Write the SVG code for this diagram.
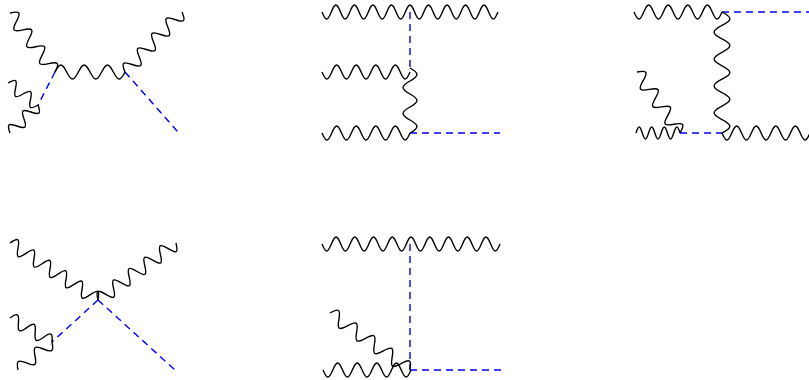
<svg xmlns="http://www.w3.org/2000/svg" xmlns:xlink="http://www.w3.org/1999/xlink" width="809" height="380" viewBox="0 0 809 380">
<style>
.ph{fill:none;stroke:#000;stroke-width:1.4;stroke-linejoin:round}
.sc{fill:none;stroke:#0000ff;stroke-width:1.4;stroke-dasharray:7,5}
</style>
<defs>
<path id="w9" class="ph" d="M0,0c3.91,9.3 5.87,9.3 9.78,0s5.87,-9.3 9.78,0s5.87,9.3 9.78,0s5.87,-9.3 9.78,0s5.87,9.3 9.78,0s5.87,-9.3 9.78,0s5.87,9.3 9.78,0s5.87,-9.3 9.78,0s5.87,9.3 9.78,0"/>
</defs>
<rect width="809" height="380" fill="#fff"/>

<g id="diagram1">
<g id="d1-connectors">
<path class="sc" d="M55,72L38,105M125,72L178,132"/>
<path class="ph" transform="translate(10,13) rotate(52.67)" d="M0,0c4.24,-9.3 6.36,-9.3 10.6,0s6.36,9.3 10.6,0s6.36,-9.3 10.6,0s6.36,9.3 10.6,0s6.36,-9.3 10.6,0s6.36,9.3 10.6,0s6.36,-9.3 10.6,0"/>
<path class="ph" transform="translate(55,72)" d="M0,0c4.67,-9.3 7,-9.3 11.67,0s7,9.3 11.67,0s7,-9.3 11.67,0s7,9.3 11.67,0s7,-9.3 11.67,0s7,9.3 11.67,0"/>
<path class="ph" transform="translate(125,72) rotate(-46.47)" d="M0,0c4.14,-9.3 6.21,-9.3 10.35,0s6.21,9.3 10.35,0s6.21,-9.3 10.35,0s6.21,9.3 10.35,0s6.21,-9.3 10.35,0s6.21,9.3 10.35,0s6.21,-9.3 10.35,0s6.21,9.3 10.35,0"/>
<path class="ph" transform="translate(8,83) rotate(36.25)" d="M0,0c3.72,-8.5 5.58,-8.5 9.3,0s5.58,8.5 9.3,0s5.58,-8.5 9.3,0s5.58,8.5 9.3,0"/>
<path class="ph" transform="translate(38,105) rotate(135)" d="M0,0c3.96,-8.5 5.94,-8.5 9.9,0s5.94,8.5 9.9,0s5.94,-8.5 9.9,0s5.94,8.5 9.9,0"/>
</g>
</g>

<g id="diagram2">
<g id="d2-connectors">
<path class="sc" d="M410,12V70M410,133H500"/>
<path class="ph" transform="translate(322,12)" d="M0,0c3.7,9.3 5.56,9.3 9.26,0s5.56,-9.3 9.26,0s5.56,9.3 9.26,0s5.56,-9.3 9.26,0s5.56,9.3 9.26,0s5.56,-9.3 9.26,0s5.56,9.3 9.26,0s5.56,-9.3 9.26,0s5.56,9.3 9.26,0s5.56,-9.3 9.26,0s5.56,9.3 9.26,0s5.56,-9.3 9.26,0s5.56,9.3 9.26,0s5.56,-9.3 9.26,0s5.56,9.3 9.26,0s5.56,-9.3 9.26,0s5.56,9.3 9.26,0s5.56,-9.3 9.26,0s5.56,9.3 9.26,0"/>
<use href="#w9" xlink:href="#w9" transform="translate(322,72)"/>
<use href="#w9" xlink:href="#w9" transform="translate(322,133)"/>
<path class="ph" transform="translate(410,68) rotate(90)" d="M0,0c5.2,-9.3 7.8,-9.3 13,0s7.8,9.3 13,0s7.8,-9.3 13,0s7.8,9.3 13,0s7.8,-9.3 13,0"/>
</g>
</g>

<g id="diagram3">
<g id="d3-connectors">
<path class="sc" d="M722,12H809M680,133H722"/>
<use href="#w9" xlink:href="#w9" transform="translate(634,12)"/>
<use href="#w9" xlink:href="#w9" transform="translate(722,133)"/>
<path class="ph" transform="translate(722,12) rotate(90)" d="M0,0c5.38,-10.5 8.06,-10.5 13.44,0s8.06,10.5 13.44,0s8.06,-10.5 13.44,0s8.06,10.5 13.44,0s8.06,-10.5 13.44,0s8.06,10.5 13.44,0s8.06,-10.5 13.44,0s8.06,10.5 13.44,0s8.06,-10.5 13.44,0"/>
<path class="ph" transform="translate(637,72) rotate(54.82)" d="M0,0c4.26,-9.3 6.4,-9.3 10.66,0s6.4,9.3 10.66,0s6.4,-9.3 10.66,0s6.4,9.3 10.66,0s6.4,-9.3 10.66,0s6.4,9.3 10.66,0s6.4,-9.3 10.66,0"/>
<path class="ph" transform="translate(636,133)" d="M0,0c2.52,-8 3.77,-8 6.29,0s3.77,8 6.29,0s3.77,-8 6.29,0s3.77,8 6.29,0s3.77,-8 6.29,0s3.77,8 6.29,0s3.77,-8 6.29,0"/>
</g>
</g>

<g id="diagram4">
<g id="d4-connectors">
<path class="sc" d="M98,300L52,342M98,300L175,370"/>
<path class="ph" transform="translate(10,243) rotate(32.93)" d="M0,0c3.81,-9.3 5.72,-9.3 9.53,0s5.72,9.3 9.53,0s5.72,-9.3 9.53,0s5.72,9.3 9.53,0s5.72,-9.3 9.53,0s5.72,9.3 9.53,0s5.72,-9.3 9.53,0s5.72,9.3 9.53,0s5.72,-9.3 9.53,0s5.72,9.3 9.53,0s5.72,-9.3 9.53,0"/>
<path class="ph" transform="translate(98,300) rotate(-36.16)" d="M0,0c3.86,-9.3 5.8,-9.3 9.66,0s5.8,9.3 9.66,0s5.8,-9.3 9.66,0s5.8,9.3 9.66,0s5.8,-9.3 9.66,0s5.8,9.3 9.66,0s5.8,-9.3 9.66,0s5.8,9.3 9.66,0s5.8,-9.3 9.66,0s5.8,9.3 9.66,0"/>
<path class="ph" transform="translate(10,318) rotate(29.74)" d="M0,0c3.87,-8.5 5.81,-8.5 9.68,0s5.81,8.5 9.68,0s5.81,-8.5 9.68,0s5.81,8.5 9.68,0s5.81,-8.5 9.68,0"/>
<path class="ph" transform="translate(52,342) rotate(140.53)" d="M0,0c4.4,-8.5 6.6,-8.5 11,0s6.6,8.5 11,0s6.6,-8.5 11,0s6.6,8.5 11,0"/>
</g>
</g>

<g id="diagram5">
<g id="d5-connectors">
<path class="sc" d="M410,244V370M410,370H502"/>
<path class="ph" transform="translate(322,244)" d="M0,0c3.75,9.3 5.62,9.3 9.37,0s5.62,-9.3 9.37,0s5.62,9.3 9.37,0s5.62,-9.3 9.37,0s5.62,9.3 9.37,0s5.62,-9.3 9.37,0s5.62,9.3 9.37,0s5.62,-9.3 9.37,0s5.62,9.3 9.37,0s5.62,-9.3 9.37,0s5.62,9.3 9.37,0s5.62,-9.3 9.37,0s5.62,9.3 9.37,0s5.62,-9.3 9.37,0s5.62,9.3 9.37,0s5.62,-9.3 9.37,0s5.62,9.3 9.37,0s5.62,-9.3 9.37,0s5.62,9.3 9.37,0"/>
<path class="ph" transform="translate(330,313) rotate(35.47)" d="M0,0c4.36,-9.3 6.54,-9.3 10.9,0s6.54,9.3 10.9,0s6.54,-9.3 10.9,0s6.54,9.3 10.9,0s6.54,-9.3 10.9,0s6.54,9.3 10.9,0s6.54,-9.3 10.9,0s6.54,9.3 10.9,0s6.54,-9.3 10.9,0"/>
<use href="#w9" xlink:href="#w9" transform="translate(323,370)"/>
</g>
</g>
</svg>
